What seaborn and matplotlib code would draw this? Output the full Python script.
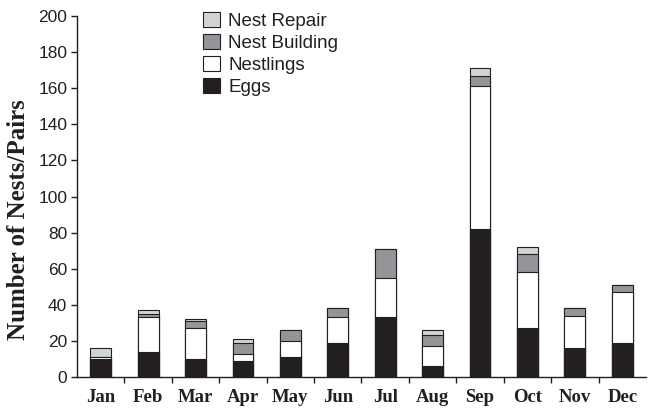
import matplotlib
matplotlib.use('Agg')
import matplotlib.pyplot as plt
import seaborn as sns
import numpy as np
from matplotlib.patches import Patch
from matplotlib.ticker import FixedLocator

months = ['Jan', 'Feb', 'Mar', 'Apr', 'May', 'Jun', 'Jul', 'Aug', 'Sep', 'Oct', 'Nov', 'Dec']
eggs = [10, 14, 10, 9, 11, 19, 33, 6, 82, 27, 16, 19]
nestlings = [1, 19, 17, 4, 9, 14, 22, 11, 79, 31, 18, 28]
nest_building = [0, 2, 4, 6, 6, 5, 16, 6, 6, 10, 4, 4]
nest_repair = [5, 2, 1, 2, 0, 0, 0, 3, 4, 4, 0, 0]
series_names = ['Eggs', 'Nestlings', 'Nest Building', 'Nest Repair']
colors = ['#231f20', '#ffffff', '#939598', '#d1d3d4']
y_ticks = [0, 20, 40, 60, 80, 100, 120, 140, 160, 180, 200]

sns.set_style('ticks')
plt.rcParams['font.family'] = ['Liberation Sans', 'DejaVu Sans']

fig = plt.figure(figsize=(6.51, 4.08), dpi=100)
ax = fig.add_axes([77/651, 1-377/408, 569/651, 361/408])

layers = [eggs, nestlings, nest_building, nest_repair]
cums = np.cumsum(np.array(layers), axis=0)
edge = '#231f20'
for i in range(3, -1, -1):
    sns.barplot(x=months, y=cums[i], order=months, color=colors[i], saturation=1,
                edgecolor=edge, linewidth=0.8, width=0.44, errorbar=None, ax=ax)

ax.set_xlim(-0.5, 11.5)
ax.set_ylim(0, 200)
ax.set_yticks(y_ticks)
ax.tick_params(axis='y', direction='out', length=4, width=1, color=edge, labelsize=12.5, pad=3, labelcolor='#231f20')
ax.tick_params(axis='x', which='major', length=0, pad=9)
ax.xaxis.set_minor_locator(FixedLocator(np.arange(0.5, 11.5, 1)))
ax.tick_params(axis='x', which='minor', direction='out', length=4, width=1, color=edge)
for lab in ax.get_xticklabels():
    lab.set_fontfamily('Liberation Serif')
    lab.set_fontweight('bold')
    lab.set_fontsize(13.5)
    lab.set_color('#231f20')
for s in ['top', 'right']:
    ax.spines[s].set_visible(False)
for s in ['left', 'bottom']:
    ax.spines[s].set_color(edge)
    ax.spines[s].set_linewidth(1.0)

ax.set_xlabel('')
ax.set_ylabel('Number of Nests/Pairs', fontfamily='Liberation Serif', fontweight='bold',
              fontsize=18, color='#231f20')
ax.yaxis.set_label_coords(-0.083, 0.437)

handles = [Patch(facecolor=colors[i], edgecolor=edge, linewidth=0.8, label=series_names[i]) for i in range(3, -1, -1)]
leg = fig.legend(handles=handles, loc='upper left', bbox_to_anchor=(203/651, 1-12/408), frameon=False,
                 fontsize=13.5, handlelength=0.9, handleheight=0.85, labelspacing=0.22,
                 handletextpad=0.45, borderpad=0, borderaxespad=0)
for t in leg.get_texts():
    t.set_color('#231f20')

fig.savefig('out.png', dpi=100)
